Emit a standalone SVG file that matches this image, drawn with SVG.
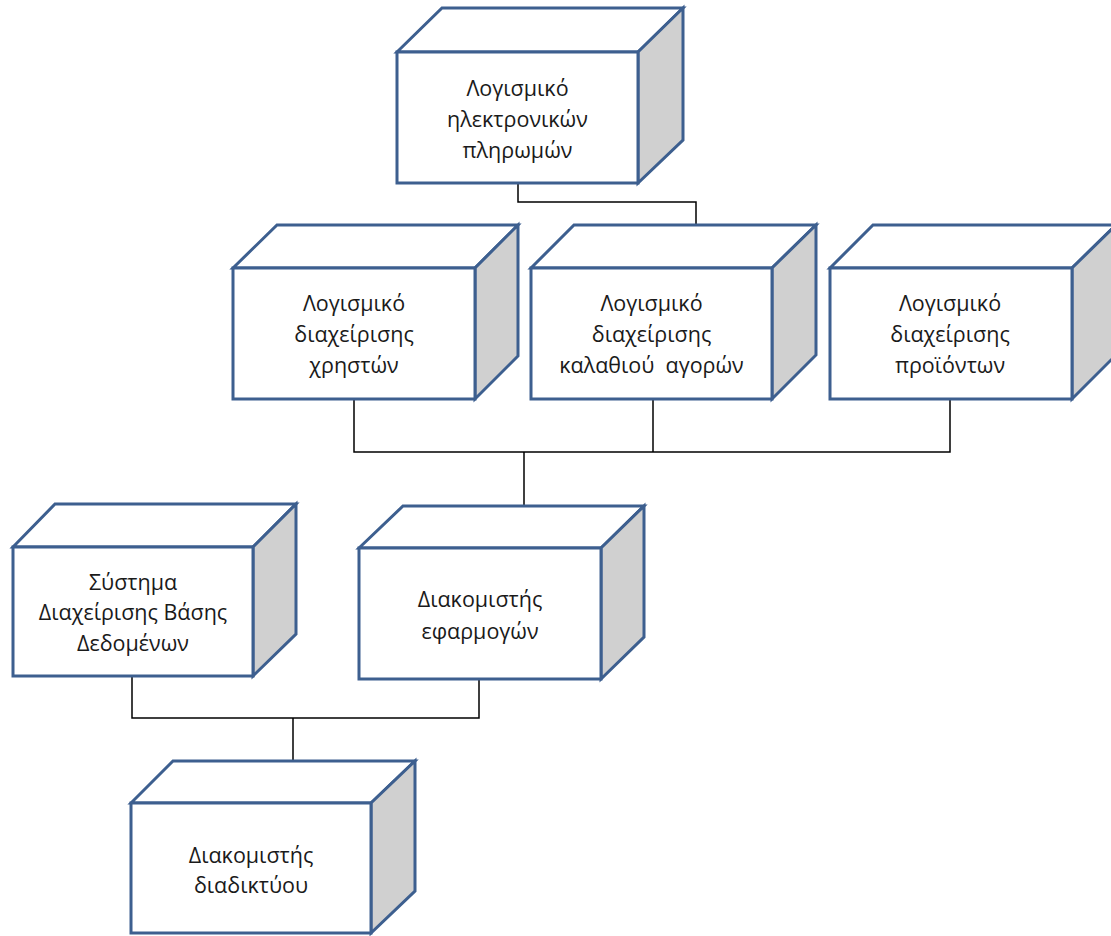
<svg xmlns="http://www.w3.org/2000/svg" width="1111" height="936" viewBox="0 0 1111 936">
  <style>
    .face { fill: #ffffff; stroke: #3d5f8f; stroke-width: 3; stroke-linejoin: miter; }
    .side { fill: #d0d0d0; stroke: #3d5f8f; stroke-width: 3; stroke-linejoin: miter; }
    .label { font-family: "Open Sans", "Noto Sans", "DejaVu Sans", sans-serif; font-size: 21.5px; fill: #1a1a1a; text-anchor: middle; }
    .wire { fill: none; stroke: #000000; stroke-width: 1.5; }
  </style>
  <rect width="1111" height="936" fill="#ffffff"/>

  <!-- connectors -->
  <g id="connectors">
    <polyline class="wire" points="518,183 518,202 696,202 696,225"/>
    <polyline class="wire" points="354,400 354,452 950,452 950,400"/>
    <line class="wire" x1="653" y1="400" x2="653" y2="452"/>
    <line class="wire" x1="524" y1="452" x2="524" y2="505"/>
    <polyline class="wire" points="132,676 132,718 479,718 479,679"/>
    <line class="wire" x1="293" y1="718" x2="293" y2="761"/>
  </g>

  <!-- payments software -->
  <g id="node-payments">
    <polygon class="face" points="397,52 442,8 683,8 638,52"/>
    <polygon class="side" points="638,52 683,8 683,140 638,183"/>
    <rect class="face" x="397" y="52" width="241" height="131"/>
    <text class="label" x="517.5" y="96">Λογισμικό</text>
    <text class="label" x="517.5" y="127">ηλεκτρονικών</text>
    <text class="label" x="517.5" y="158">πληρωμών</text>
  </g>

  <!-- user management software -->
  <g id="node-users">
    <polygon class="face" points="233,268 277,225 518,225 475,268"/>
    <polygon class="side" points="475,268 518,225 518,356 475,399"/>
    <rect class="face" x="233" y="268" width="242" height="131"/>
    <text class="label" x="354" y="311">Λογισμικό</text>
    <text class="label" x="354" y="342">διαχείρισης</text>
    <text class="label" x="354" y="373">χρηστών</text>
  </g>

  <!-- shopping cart software -->
  <g id="node-cart">
    <polygon class="face" points="531,268 574,225 816,225 772,268"/>
    <polygon class="side" points="772,268 816,225 816,355 772,399"/>
    <rect class="face" x="531" y="268" width="241" height="131"/>
    <text class="label" x="651.5" y="311">Λογισμικό</text>
    <text class="label" x="651.5" y="342">διαχείρισης</text>
    <text class="label" x="651.5" y="373" xml:space="preserve">καλαθιού  αγορών</text>
  </g>

  <!-- product management software -->
  <g id="node-products">
    <polygon class="face" points="830,268 873,225 1116,225 1072,268"/>
    <polygon class="side" points="1072,268 1116,225 1116,355 1072,399"/>
    <rect class="face" x="830" y="268" width="242" height="131"/>
    <text class="label" x="950" y="311">Λογισμικό</text>
    <text class="label" x="950" y="342">διαχείρισης</text>
    <text class="label" x="950" y="373">προϊόντων</text>
  </g>

  <!-- database management system -->
  <g id="node-dbms">
    <polygon class="face" points="13,547 55,504 296,504 253,547"/>
    <polygon class="side" points="253,547 296,504 296,634 253,676"/>
    <rect class="face" x="13" y="547" width="240" height="129"/>
    <text class="label" x="133" y="590">Σύστημα</text>
    <text class="label" x="133" y="620">Διαχείρισης Βάσης</text>
    <text class="label" x="133" y="651">Δεδομένων</text>
  </g>

  <!-- application server -->
  <g id="node-appserver">
    <polygon class="face" points="359,548 403,506 644,506 601,548"/>
    <polygon class="side" points="601,548 644,506 644,637 601,679"/>
    <rect class="face" x="359" y="548" width="242" height="131"/>
    <text class="label" x="480" y="607">Διακομιστής</text>
    <text class="label" x="480" y="639">εφαρμογών</text>
  </g>

  <!-- web server -->
  <g id="node-webserver">
    <polygon class="face" points="131,803 173,761 415,761 371,803"/>
    <polygon class="side" points="371,803 415,761 415,891 371,933"/>
    <rect class="face" x="131" y="803" width="240" height="130"/>
    <text class="label" x="251" y="863">Διακομιστής</text>
    <text class="label" x="251" y="893">διαδικτύου</text>
  </g>
</svg>
